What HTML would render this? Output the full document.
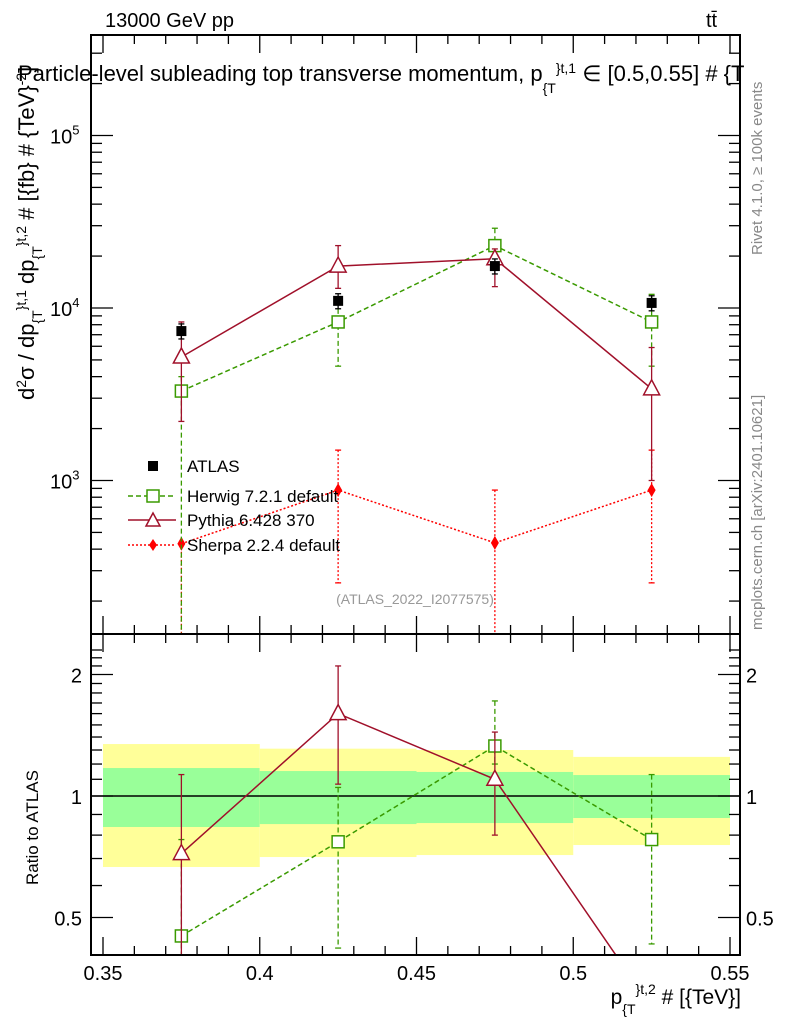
<!DOCTYPE html>
<html><head><meta charset="utf-8"><style>
body{margin:0;background:#fff;}
svg{display:block;font-family:"Liberation Sans",sans-serif;}
</style></head><body>
<svg id="c" width="786" height="1024" viewBox="0 0 786 1024" xmlns="http://www.w3.org/2000/svg">
<rect width="786" height="1024" fill="#fff"/>
<g id="bands"></g>
<g id="marks"></g>
<g id="axes"></g>
<text x="105" y="27" font-size="20">13000 GeV pp</text>
<text x="706" y="27" font-size="20">tt̄</text>
<text x="18" y="81" font-size="22">Particle-level subleading top transverse momentum, p<tspan dy="12" font-size="14">{T</tspan><tspan dy="-20" font-size="14">}<tspan>t,1</tspan></tspan><tspan dy="8"> ∈ [0.5,0.55] # {T</tspan></text>
<text transform="translate(34,400) rotate(-90)" font-size="22">d<tspan font-size="14" dy="-8">2</tspan><tspan dy="8">σ / dp</tspan><tspan font-size="14" dy="8">{T</tspan><tspan font-size="14" dy="-16">}t,1</tspan><tspan dy="8"> dp</tspan><tspan font-size="14" dy="8">{T</tspan><tspan font-size="14" dy="-16">}t,2</tspan><tspan dy="8"> # [{fb} # {TeV}</tspan><tspan font-size="14" dy="-8">-2</tspan><tspan dy="8">]</tspan></text>
<text transform="translate(38,885) rotate(-90)" font-size="17">Ratio to ATLAS</text>
<text x="741" y="1004" font-size="21" text-anchor="end">p<tspan font-size="14" dy="10">{T</tspan><tspan font-size="14" dy="-20">}t,2</tspan><tspan dy="10"> # [{TeV}]</tspan></text>
<text transform="translate(762,255) rotate(-90)" font-size="15" fill="#888">Rivet 4.1.0, ≥ 100k events</text>
<text transform="translate(762,630) rotate(-90)" font-size="15" fill="#888">mcplots.cern.ch [arXiv:2401.10621]</text>
<text x="415" y="604" font-size="14" fill="#999" text-anchor="middle">(ATLAS_2022_I2077575)</text>
<g>
<rect x="148" y="461" width="10" height="10" fill="#000"/>
<text x="187" y="472" font-size="17">ATLAS</text>
<line x1="128" y1="496" x2="176" y2="496" stroke="#3a9a00" stroke-width="1.5" stroke-dasharray="5,3"/>
<rect x="147" y="490" width="12" height="12" fill="#fff" stroke="#3a9a00" stroke-width="1.5"/>
<text x="187" y="502" font-size="17">Herwig 7.2.1 default</text>
<line x1="128" y1="520" x2="176" y2="520" stroke="#a0102a" stroke-width="1.5"/>
<path d="M153,513 L160,526 L146,526 Z" fill="#fff" stroke="#a0102a" stroke-width="1.5"/>
<text x="187" y="526" font-size="17">Pythia 6.428 370</text>
<line x1="128" y1="545" x2="176" y2="545" stroke="#f00" stroke-width="1.5" stroke-dasharray="2,2"/>
<path d="M153,539 L157,545 L153,551 L149,545 Z" fill="#f00"/>
<text x="187" y="551" font-size="17">Sherpa 2.2.4 default</text>
</g>
</svg>
<script>
const xCenters=[0.375,0.425,0.475,0.525];
const binEdges=[0.35,0.4,0.45,0.5,0.55];
const atlas=[7350,11000,17500,10700];
const herwig=[3300,8300,23000,8300];
const herwigUp=[4000,11000,29000,12000];
const herwigDn=[50,4600,20000,4600];
const pythia=[5200,17500,19300,3400];
const pythiaUp=[8300,23000,22000,5900];
const pythiaDn=[2200,13000,13300,1000];
const sherpa=[430,880,435,880];
const sherpaUp=[430,1500,880,1500];
const sherpaDn=[50,255,50,255];
const bandOuterHi=[1.345,1.31,1.30,1.25];
const bandOuterLo=[0.667,0.706,0.714,0.756];
const bandInnerHi=[1.173,1.153,1.147,1.127];
const bandInnerLo=[0.838,0.852,0.857,0.882];
const herwigR=[0.45,0.77,1.33,0.78];
const herwigRUp=[0.78,1.05,1.72,1.13];
const herwigRDn=[0.3,0.42,1.2,0.43];
const pythiaR=[0.72,1.60,1.10,0.30];
const pythiaRUp=[1.13,2.1,1.44,0.3];
const pythiaRDn=[0.3,1.07,0.80,0.3];
const xTicks=[0.35,0.4,0.45,0.5,0.55];
const xTickLabels=["0.35","0.4","0.45","0.5","0.55"];
const ratioTicks=[0.5,1,2];
const ratioTickLabels=["0.5","1","2"];

const L=91,R=740,T=35,M=634,B=955;
const X=v=>103+(v-0.35)*3135;
const Y=v=>308-172.5*Math.log10(v/1e4);
const YR=v=>796-121.5*Math.log2(v);
const NS="http://www.w3.org/2000/svg";
function mk(p,tag,a){const e=document.createElementNS(NS,tag);for(const k in a)e.setAttribute(k,a[k]);p.appendChild(e);return e;}
const svg=document.getElementById('c');
const bands=document.getElementById('bands'),marks=document.getElementById('marks'),axes=document.getElementById('axes');
const clipY=(y,a,b)=>Math.max(a,Math.min(b,y));
for(let i=0;i<4;i++){
 const x0=X(binEdges[i]),x1=X(binEdges[i+1]);
 const r1=mk(bands,'rect',{x:x0,y:YR(bandOuterHi[i]),width:x1-x0,height:YR(bandOuterLo[i])-YR(bandOuterHi[i]),fill:'#ffff99'});
 
 
 const r2=mk(bands,'rect',{x:x0,y:YR(bandInnerHi[i]),width:x1-x0,height:YR(bandInnerLo[i])-YR(bandInnerHi[i]),fill:'#99ff99'});
 
 
}
const one=mk(bands,'line',{x1:L,x2:R,y1:YR(1),y2:YR(1),stroke:'#000','stroke-width':1.5});


function series(name,vals,up,dn,yf,top,bot,col,dash,marker){
 const g=mk(marks,'g',{});
 
 
 const pts=xCenters.map((x,i)=>[X(x),yf(vals[i])]);
 if(col){
  const pl=mk(g,'polyline',{points:pts.map(p=>p.join(',')).join(' '),fill:'none',stroke:col,'stroke-width':1.5,'stroke-dasharray':dash});
  
  
 }
 pts.forEach((p,i)=>{
  const yu=clipY(yf(up[i]),top,bot),yd=clipY(yf(dn[i]),top,bot);
  const c=col||'#000';
  const el=mk(g,'line',{x1:p[0],x2:p[0],y1:yu,y2:yd,stroke:c,'stroke-width':1.3,'stroke-dasharray':dash});
  
  
  if(yu>top) mk(g,'line',{x1:p[0]-3,x2:p[0]+3,y1:yu,y2:yu,stroke:c,'stroke-width':1.3});
  if(yd<bot) mk(g,'line',{x1:p[0]-3,x2:p[0]+3,y1:yd,y2:yd,stroke:c,'stroke-width':1.3});
  if(p[1]>bot||p[1]<top) return;
  let m;
  if(marker==='sq') m=mk(g,'rect',{x:p[0]-6,y:p[1]-6,width:12,height:12,fill:'#fff',stroke:col,'stroke-width':1.5});
  else if(marker==='tri') m=mk(g,'path',{d:`M${p[0]},${p[1]-9} L${p[0]+8},${p[1]+6} L${p[0]-8},${p[1]+6} Z`,fill:'#fff',stroke:col,'stroke-width':1.5});
  else if(marker==='dia') m=mk(g,'path',{d:`M${p[0]},${p[1]-7} L${p[0]+4},${p[1]} L${p[0]},${p[1]+7} L${p[0]-4},${p[1]} Z`,fill:col});
  else m=mk(g,'rect',{x:p[0]-5,y:p[1]-5,width:10,height:10,fill:'#000'});
  
  
 });
}
const atlasErr=atlas.map(v=>v*1.1),atlasErrD=atlas.map(v=>v*0.9);
series('sherpa',sherpa,sherpaUp,sherpaDn,Y,T,M,'#ff0000','2,2','dia');
series('herwig',herwig,herwigUp,herwigDn,Y,T,M,'#3a9a00','5,3','sq');
series('pythia',pythia,pythiaUp,pythiaDn,Y,T,M,'#a0102a','','tri');
series('atlas',atlas,atlasErr,atlasErrD,Y,T,M,null,'','blk');
series('herwig-ratio',herwigR,herwigRUp,herwigRDn,YR,M,B,'#3a9a00','5,3','sq');
const clip=mk(svg,'clipPath',{id:'rc'});mk(clip,'rect',{x:L,y:M,width:R-L,height:B-M});
series('pythia-ratio',pythiaR,pythiaRUp,pythiaRDn,YR,M,B,'#a0102a','','tri');
marks.lastChild.setAttribute('clip-path','url(#rc)');
for(const [y0,y1] of [[T,M],[M,B]]){
 const f=mk(axes,'rect',{x:L,y:y0,width:R-L,height:y1-y0,fill:'none',stroke:'#000','stroke-width':2});
 
 
}
for(let v=0.35;v<=0.5551;v+=0.01){
 const x=X(v);const major=Math.abs(Math.round(v*20)-v*20)<1e-6;const len=major?18:9;
 for(const [y0,d] of [[M,-1],[B,-1],[T,1],[M,1]]) mk(axes,'line',{x1:x,x2:x,y1:y0,y2:y0+d*len,stroke:'#000','stroke-width':1.3});
}
xTicks.forEach((v,i)=>{const t=mk(axes,'text',{x:X(v),y:980,'font-size':20,'text-anchor':'middle'});t.textContent=xTickLabels[i];
 
 });
for(let e=2;e<=5;e++)for(let k=1;k<10;k++){const v=k*Math.pow(10,e);const y=Y(v);if(y<T||y>M)continue;const len=k===1?22:11;
 mk(axes,'line',{x1:L,x2:L+len,y1:y,y2:y,stroke:'#000','stroke-width':1.3});mk(axes,'line',{x1:R,x2:R-len,y1:y,y2:y,stroke:'#000','stroke-width':1.3});
 if(k===1){const t=mk(axes,'text',{x:50,y:y+8,'font-size':20});t.innerHTML='10<tspan font-size="13" dy="-9">'+e+'</tspan>';
 
 }}
for(let v=0.4;v<=2.4;v+=0.1){const y=YR(v);if(y<M||y>B)continue;const major=ratioTicks.some(r=>Math.abs(r-v)<1e-6);const len=major?22:11;
 mk(axes,'line',{x1:L,x2:L+len,y1:y,y2:y,stroke:'#000','stroke-width':1.3});mk(axes,'line',{x1:R,x2:R-len,y1:y,y2:y,stroke:'#000','stroke-width':1.3});}
ratioTicks.forEach((v,i)=>{for(const [x,a] of [[82,'end'],[746,'start']]){const t=mk(axes,'text',{x:x,y:YR(v)+8,'font-size':20,'text-anchor':a});t.textContent=ratioTickLabels[i];
 
 }});
</script>
</body></html>
